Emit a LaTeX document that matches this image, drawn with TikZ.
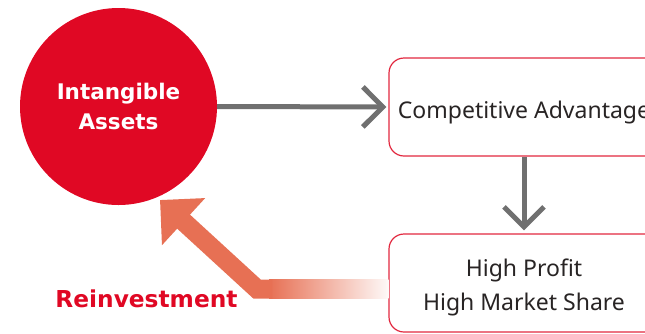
\documentclass[tikz,border=0pt]{standalone}
\usepackage{fontspec}
\setmainfont{Noto Sans}
\newfontfamily\boldsans{DejaVu Sans Bold}
\usetikzlibrary{arrows.meta,calc}
\definecolor{iared}{RGB}{224,8,36}
\definecolor{boxred}{RGB}{226,40,63}
\definecolor{reorange}{RGB}{231,112,84}
\definecolor{arrowgray}{RGB}{112,112,112}
\definecolor{textdark}{RGB}{40,36,36}
\tikzset{
  flowbox/.style={draw=boxred, line width=1.2pt, rounded corners=15pt, minimum width=270pt, minimum height=98pt, fill=white, text=textdark, font=\fontsize{23}{34}\selectfont, align=center, inner sep=0pt},
  grayarrow/.style={draw=arrowgray, line width=5pt, -{Straight Barb[length=20pt,width=40pt,line cap=butt]}},
}
\begin{document}
\begin{tikzpicture}[x=1pt,y=-1pt]
\useasboundingbox (0,0) rectangle (645,333);
\node[circle, fill=iared, minimum size=197pt, inner sep=0pt, text=white, font=\boldsans\fontsize{21.5}{30}\selectfont, align=center] (ia) at (118.5,106.5) {Intangible\\Assets};
\node[flowbox] (ca) at (524,107) {\raisebox{-6pt}[\height][\depth]{Competitive Advantage}};
\node[flowbox] (hp) at (524,283) {\raisebox{-4pt}[\height][\depth]{\begin{tabular}{@{}c@{}}High Profit\\High Market Share\end{tabular}}};
\node[text=iared, font=\boldsans\fontsize{23.3}{28}\selectfont, inner sep=0pt] (re) at (146.5,299) {Reinvestment};
\draw[grayarrow] (ia.east) -- ([xshift=-2pt]ca.west);
\draw[grayarrow] (ca.south) -- ([yshift=3pt]hp.north);
\coordinate (bend) at (257,289);
\coordinate (rtip) at (160,200);
\coordinate (fadestart) at (272,289);
\shade[left color=reorange, right color=reorange!4] ($(fadestart)+(-3,-9.5)$) rectangle ($(hp.west |- bend)+(0,9.5)$);
\draw[reorange, line width=19pt, line join=miter, -{Triangle[length=32pt,width=62pt]}] (fadestart) -- (bend) -- (rtip);
\end{tikzpicture}
\end{document}
